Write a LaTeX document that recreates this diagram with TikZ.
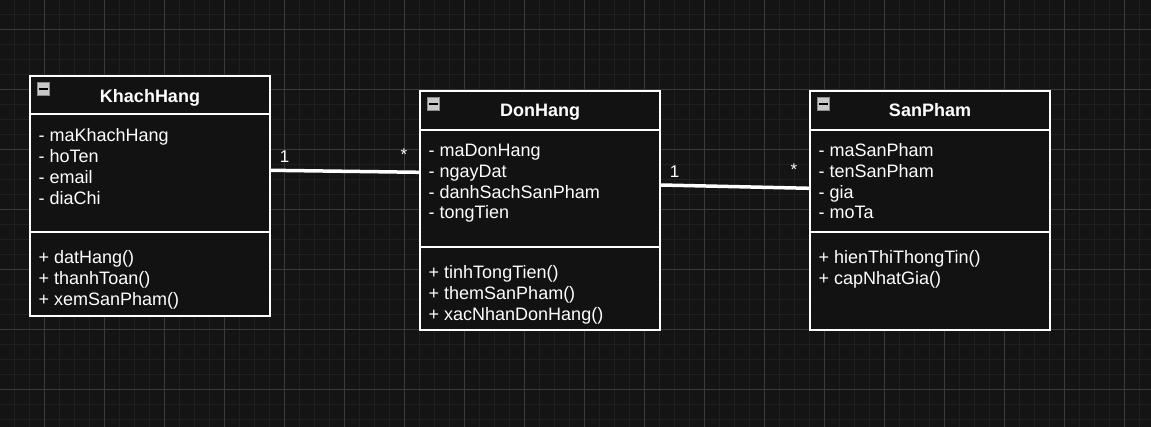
\documentclass[tikz,border=0pt]{standalone}
\usepackage{fontspec}
\setmainfont{Liberation Sans}
\definecolor{bg}{HTML}{141414}
\definecolor{minorc}{HTML}{202020}
\definecolor{majorc}{HTML}{3A3A3A}
\definecolor{boxfill}{HTML}{121212}
\definecolor{iconfill}{HTML}{C8C8C8}
\definecolor{iconedge}{HTML}{8A8A8A}
\begin{document}
\begin{tikzpicture}[x=1pt,y=-1pt,
  minorline/.style={draw=minorc,line width=1pt},
  majorline/.style={draw=majorc,line width=1pt},
  cbox/.style={draw=white,fill=boxfill,line width=1.6pt,inner sep=0pt,minimum width=240pt},
  divider/.style={draw=white,line width=1.6pt},
  ctitle/.style={text=white,font=\fontsize{18}{21}\selectfont\bfseries,inner sep=0pt,anchor=base},
  member/.style={text=white,font=\fontsize{18}{21}\selectfont,inner sep=0pt,anchor=base west},
  mult/.style={text=white,font=\fontsize{17}{20}\selectfont,inner sep=0pt,anchor=base},
  icon/.style={draw=iconedge,fill=iconfill,line width=1.2pt,minimum size=12.5pt,inner sep=0pt,
    path picture={\draw[black,line width=1.8pt]
      ([xshift=2pt]path picture bounding box.west) -- ([xshift=-2pt]path picture bounding box.east);}},
  assoc/.style={draw=white,line width=3.5pt}
]
\useasboundingbox (0,0) rectangle (1151,427);
\fill[bg] (0,0) rectangle (1151,427);
% grid
\foreach \g in {14,29,...,1150} \draw[minorline] (\g+0.5,0) -- (\g+0.5,427);
\foreach \g in {14,29,...,427} \draw[minorline] (0,\g+0.5) -- (1151,\g+0.5);
\foreach \g in {44,104,...,1150} \draw[majorline] (\g+0.5,0) -- (\g+0.5,427);
\foreach \g in {29,89,...,427} \draw[majorline] (0,\g+0.5) -- (1151,\g+0.5);

% KhachHang
\node[cbox,minimum height=240pt] (kh) at (150,196) {};
\draw[divider] (kh.west |- 0,114) -- (kh.east |- 0,114);
\draw[divider] (kh.west |- 0,232) -- (kh.east |- 0,232);
\node[icon] (khI) at (43.5,89) {};
\node[ctitle] (khT) at (150,102.3) {KhachHang};
\node[member] (kh1) at (38.5,141.7) {- maKhachHang};
\node[member] (kh2) at (38.5,162.5) {- hoTen};
\node[member] (kh3) at (38.5,183.3) {- email};
\node[member] (kh4) at (38.5,204.1) {- diaChi};
\node[member] (kh5) at (38.5,263.5) {+ datHang()};
\node[member] (kh6) at (38.5,284.3) {+ thanhToan()};
\node[member] (kh7) at (38.5,305.1) {+ xemSanPham()};

% DonHang
\node[cbox,minimum height=239pt] (dh) at (540,210.5) {};
\draw[divider] (dh.west |- 0,130) -- (dh.east |- 0,130);
\draw[divider] (dh.west |- 0,247) -- (dh.east |- 0,247);
\node[icon] (dhI) at (433.5,104) {};
\node[ctitle] (dhT) at (540,116.7) {DonHang};
\node[member] (dh1) at (428.5,156.5) {- maDonHang};
\node[member] (dh2) at (428.5,177.3) {- ngayDat};
\node[member] (dh3) at (428.5,198.1) {- danhSachSanPham};
\node[member] (dh4) at (428.5,218.9) {- tongTien};
\node[member] (dh5) at (428.5,278.8) {+ tinhTongTien()};
\node[member] (dh6) at (428.5,299.6) {+ themSanPham()};
\node[member] (dh7) at (428.5,320.4) {+ xacNhanDonHang()};

% SanPham
\node[cbox,minimum height=239pt] (sp) at (930,210.5) {};
\draw[divider] (sp.west |- 0,130) -- (sp.east |- 0,130);
\draw[divider] (sp.west |- 0,232) -- (sp.east |- 0,232);
\node[icon] (spI) at (823.5,104) {};
\node[ctitle] (spT) at (930,116.7) {SanPham};
\node[member] (sp1) at (818.5,156.5) {- maSanPham};
\node[member] (sp2) at (818.5,177.3) {- tenSanPham};
\node[member] (sp3) at (818.5,198.1) {- gia};
\node[member] (sp4) at (818.5,218.9) {- moTa};
\node[member] (sp5) at (818.5,263.8) {+ hienThiThongTin()};
\node[member] (sp6) at (818.5,284.6) {+ capNhatGia()};

% associations
\draw[assoc] (kh.east |- 0,170.3) -- (dh.west |- 0,172.3);
\draw[assoc] (dh.east |- 0,185) -- (sp.west |- 0,188.3);
\node[mult] (m1) at (284.5,162.5) {1};
\node[mult] (m2) at (404,161) {*};
\node[mult] (m3) at (674.5,177.5) {1};
\node[mult] (m4) at (794,176) {*};
\end{tikzpicture}
\end{document}
